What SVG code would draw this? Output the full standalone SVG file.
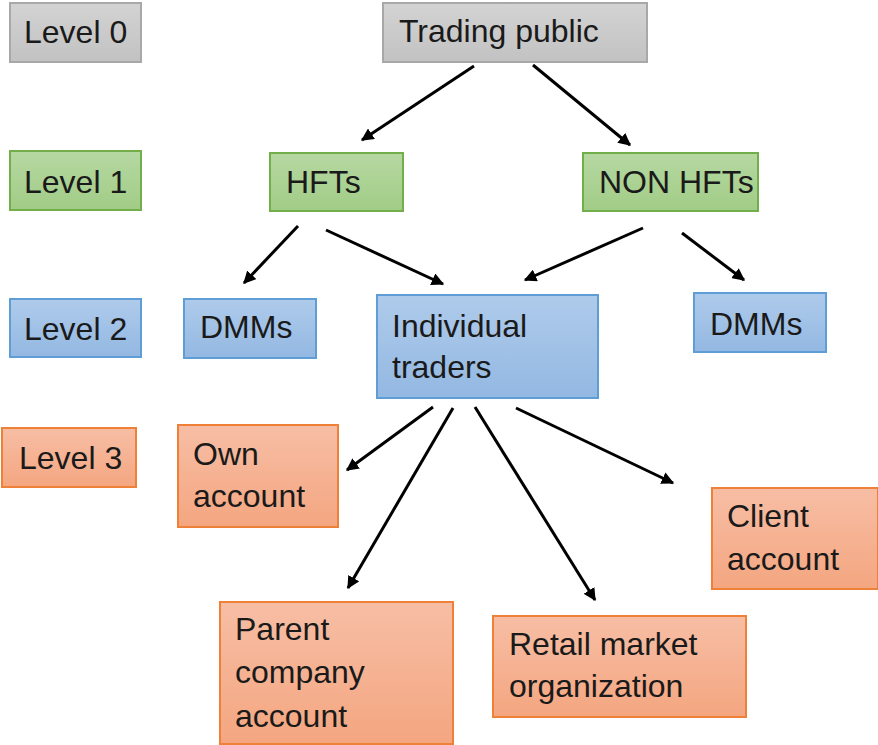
<svg xmlns="http://www.w3.org/2000/svg" width="878" height="745" viewBox="0 0 878 745">
<defs>
<linearGradient id="gGray" x1="0" y1="0" x2="0" y2="1"><stop offset="0" stop-color="#d3d3d3"/><stop offset="1" stop-color="#c2c2c2"/></linearGradient>
<linearGradient id="gGreen" x1="0" y1="0" x2="0" y2="1"><stop offset="0" stop-color="#b6d8a2"/><stop offset="1" stop-color="#a1cc86"/></linearGradient>
<linearGradient id="gBlue" x1="0" y1="0" x2="0" y2="1"><stop offset="0" stop-color="#afcbeb"/><stop offset="1" stop-color="#93b8e2"/></linearGradient>
<linearGradient id="gOrange" x1="0" y1="0" x2="0" y2="1"><stop offset="0" stop-color="#f7bea5"/><stop offset="1" stop-color="#f4a680"/></linearGradient>
<marker id="arr" viewBox="0 0 10 10" refX="9" refY="5" markerWidth="4.2" markerHeight="4.2" orient="auto" markerUnits="strokeWidth">
<path d="M0,0 L10,5 L0,10 z" fill="#000"/>
</marker>
</defs>
<style>
.gray{fill:url(#gGray);stroke:#a8a8a8;stroke-width:2}
.green{fill:url(#gGreen);stroke:#72ae4a;stroke-width:2}
.blue{fill:url(#gBlue);stroke:#5f9dd6;stroke-width:2}
.orange{fill:url(#gOrange);stroke:#ee8137;stroke-width:2}
text{font-family:"Liberation Sans",Arial,sans-serif;font-size:32px;fill:#1a1a1a}
.conn line{stroke:#000;stroke-width:3;marker-end:url(#arr)}
</style>
<g id="level0"><rect class="gray" x="10" y="3" width="131" height="59"/><text x="24" y="43">Level 0</text></g>
<g id="level1"><rect class="green" x="10" y="151" width="131" height="59"/><text x="24" y="193">Level 1</text></g>
<g id="level2"><rect class="blue" x="10" y="299" width="131" height="58"/><text x="24" y="340">Level 2</text></g>
<g id="level3"><rect class="orange" x="2" y="428" width="134" height="59"/><text x="19" y="469">Level 3</text></g>
<g id="trading-public"><rect class="gray" x="383" y="3" width="264" height="59"/><text x="399" y="42">Trading public</text></g>
<g id="hfts"><rect class="green" x="270" y="153" width="133" height="58"/><text x="286" y="193">HFTs</text></g>
<g id="non-hfts"><rect class="green" x="583" y="153" width="175" height="58"/><text x="599" y="193">NON HFTs</text></g>
<g id="dmms-left"><rect class="blue" x="184" y="299" width="132" height="59"/><text x="200" y="338">DMMs</text></g>
<g id="individual-traders"><rect class="blue" x="377" y="295" width="221" height="103"/><text x="392" y="337">Individual</text><text x="392" y="378">traders</text></g>
<g id="dmms-right"><rect class="blue" x="694" y="293" width="132" height="59"/><text x="710" y="335">DMMs</text></g>
<g id="own-account"><rect class="orange" x="178" y="425" width="160" height="102"/><text x="193" y="465">Own</text><text x="193" y="507">account</text></g>
<g id="client-account"><rect class="orange" x="712" y="488" width="166" height="101"/><text x="727" y="527">Client</text><text x="727" y="570">account</text></g>
<g id="parent-company-account"><rect class="orange" x="220" y="602" width="233" height="142"/><text x="235" y="640">Parent</text><text x="235" y="683">company</text><text x="235" y="727">account</text></g>
<g id="retail-market-organization"><rect class="orange" x="493" y="616" width="253" height="101"/><text x="509" y="655">Retail market</text><text x="509" y="697">organization</text></g>
<g id="connectors" class="conn">
<line x1="474" y1="66" x2="362" y2="140"/>
<line x1="533" y1="65" x2="630" y2="145"/>
<line x1="298" y1="226" x2="244" y2="283"/>
<line x1="326" y1="230" x2="443" y2="284"/>
<line x1="643" y1="228" x2="525" y2="280"/>
<line x1="682" y1="233" x2="744" y2="280"/>
<line x1="433" y1="407" x2="347" y2="470"/>
<line x1="453" y1="408" x2="348" y2="588"/>
<line x1="475" y1="407" x2="595" y2="600"/>
<line x1="516" y1="408" x2="673" y2="483"/>
</g>
</svg>
